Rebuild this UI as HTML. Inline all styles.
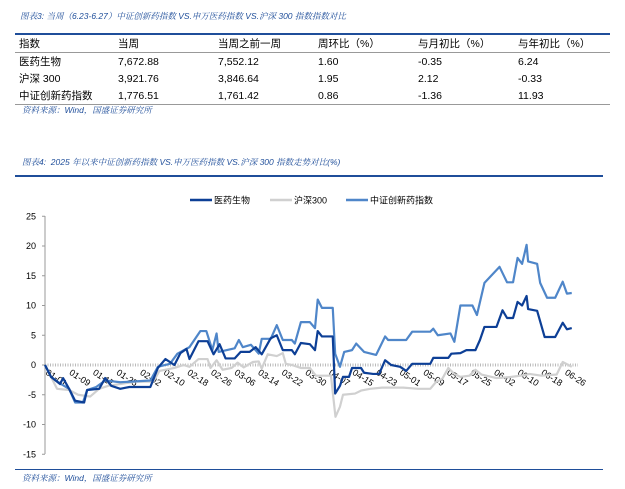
<!DOCTYPE html>
<html><head><meta charset="utf-8">
<style>
body{margin:0;width:625px;height:489px;background:#fff;position:relative;font-family:"Liberation Sans","Noto Sans CJK SC",sans-serif;overflow:hidden}
.t{position:absolute;font-size:8.5px;color:#1f4e9a;font-style:italic;font-family:"Liberation Sans","Noto Serif CJK SC",serif}
table{position:absolute;left:15px;top:33px;width:595px;border-collapse:collapse;font-size:10.5px;color:#000}
td{height:17px;padding:0 0 0 4px;white-space:nowrap}
</style></head><body>
<div class="t" style="left:20px;top:10px">图表3:&nbsp;当周（6.23-6.27）中证创新药指数 VS.申万医药指数 VS.沪深 300 指数指数对比</div>
<table>
<tr style="border-top:2px solid #1f4e9a;border-bottom:1px solid #999"><td style="width:95px">指数</td><td style="width:96px">当周</td><td style="width:96px">当周之前一周</td><td style="width:96px">周环比（%）</td><td style="width:96px">与月初比（%）</td><td>与年初比（%）</td></tr>
<tr><td>医药生物</td><td>7,672.88</td><td>7,552.12</td><td>1.60</td><td>-0.35</td><td>6.24</td></tr>
<tr><td>沪深 300</td><td>3,921.76</td><td>3,846.64</td><td>1.95</td><td>2.12</td><td>-0.33</td></tr>
<tr style="border-bottom:1px solid #999"><td>中证创新药指数</td><td>1,776.51</td><td>1,761.42</td><td>0.86</td><td>-1.36</td><td>11.93</td></tr>
</table>
<div class="t" style="left:22px;top:104px">资料来源：Wind，国盛证券研究所</div>
<div class="t" style="left:22px;top:156px">图表4:&nbsp; 2025 年以来中证创新药指数 VS.申万医药指数 VS.沪深 300 指数走势对比(%)</div>
<div style="position:absolute;left:15px;top:175px;width:588px;height:2px;background:#1f4e9a"></div>
<div style="position:absolute;left:15px;top:469px;width:588px;height:1px;background:#1f4e9a"></div>
<div class="t" style="left:22px;top:472px">资料来源：Wind，国盛证券研究所</div>
<svg id="c" width="625" height="489" style="position:absolute;left:0;top:0"></svg>
<script>
const tickVals=[25,20,15,10,5,0,-5,-10,-15];
const dateLabels=["01-01","01-09","01-17","01-25","02-02","02-10","02-18","02-26","03-06","03-14","03-22","03-30","04-07","04-15","04-23","05-01","05-09","05-17","05-25","06-02","06-10","06-18","06-26"];
const seriesNames=["医药生物","沪深300","中证创新药指数"];
const medDays=[0,2,5,6,8,10,13,14,18,20,22,25,28,35,37.5,40,43,45,47,48,51,54,56,58,60,63,65,68,70,72,75,77,79,82,83,85,88,89.7,90.6,92,95.6,96.4,98,99,101,102,105,106,109,111,113,115,118,120,122,128,129,131,134,135,138,140,143,144.5,146,150,152,153.5,155.5,157,158.5,160,160.5,163.5,166,169.5,172,173.4,175];
const medVals=[0,-2,-3.2,-2.2,-4,-6,-6.3,-4.2,-4,-2.2,-3.5,-4,-3.7,-3.7,-0.5,1,0,2,2.7,1,4,4,1.8,3.5,1.1,1.1,2.2,2.2,3,1.8,4.5,5,2.5,2.5,1.8,3.7,3.5,2.5,5.7,4.8,4.8,-4.8,-3.5,-2,-2,-0.5,-0.5,-1.3,-1.5,-1.5,0.8,0,-0.3,-1,0.2,0.2,1.2,1.2,1.2,1.9,2,2.5,2.5,4.2,6.4,6.4,9.2,7.9,7.9,10.6,10,11.6,9.4,9.1,4.7,4.7,7.1,6,6.2];
const hsDays=[0,2,4,8,11,15,18,21,25,30,36,38,43,46,48,51,54,55,57,59,62,64,66,69,71,72,74,77,79,80,82,85,88,90,95,96.5,98,99,103,105,108,112,119,124,128,130,132,134,136,138,141,143,145,150,155,158,161,165,170,172,175];
const hsVals=[0,-2,-4,-4.2,-5,-5.3,-4,-3.5,-3.2,-2.8,-2.8,-1,-0.5,0,-0.3,1,1,-0.5,0.8,-0.8,-0.5,0.4,-0.4,0.5,0.6,-0.6,1.8,1.5,2,0.2,0,-0.5,-0.5,-1.8,-1.8,-8.7,-7,-5,-4.8,-4.3,-4,-3.8,-3.8,-4,-4,-2.8,-2.3,-0.5,-1.5,-2,-1.8,-0.8,-1.6,-2.2,-2,-1.8,-1.5,-1.8,-1.6,0.5,-0.3];
const cxDays=[0,2,5,8,10,12.6,14,17,20,25,35,37.5,41.5,44,48,51.6,53.6,55.6,57,57.7,63,64.4,65.7,68.4,71,72,75,77,79,82,83,85,88,89.7,90.6,92,95.6,96.4,98,99.4,102,103.4,106,110,113,114,120,122,128,129,130.5,134.7,136,138,142,143.5,146,151,153.5,155.5,157,158.5,160,160.5,163.5,164.5,166.8,169.5,172,173.4,175];
const cxVals=[0,-2,-3.1,-4,-6.3,-6.3,-4.2,-3.7,-2.6,-2.9,-2.6,-0.3,0.2,1.9,3,5.7,5.7,2.5,5.3,2.2,2.8,4.2,3,3.4,1.9,4.4,4.4,6.7,4.2,4.2,3.6,7.2,7.2,6.2,11,9.6,9.6,1.9,-0.3,2.2,2.5,3.6,2.2,1.7,4.8,4.2,4.2,5.6,5.6,6.1,5,5.3,3.9,10,10,8.4,13.8,16.5,13.9,13.9,18,17,20.2,17.4,17,13.8,11.3,11.3,14,12,12.1];
const svg=document.getElementById('c');const NS='http://www.w3.org/2000/svg';
const X=d=>45+d*3.01, Y=v=>365-v*5.95;
function mk(t,a){const e=document.createElementNS(NS,t);for(const k in a)e.setAttribute(k,a[k]);svg.appendChild(e);return e;}
let ax=mk('line',{x1:45,y1:216,x2:45,y2:454,stroke:'#999','stroke-width':1});


tickVals.forEach(v=>{
 const tk=mk('line',{x1:42,x2:45,y1:Y(v),y2:Y(v),stroke:'#999'});
 
 
 const t=mk('text',{x:36,y:Y(v)+3,'text-anchor':'end','font-size':9,fill:'#000','font-family':'Liberation Sans'});t.textContent=v;
 
 
});
let z=mk('line',{x1:45,x2:578,y1:365,y2:365,stroke:'#bbb','stroke-width':3,'stroke-dasharray':'1,1.5'});


dateLabels.forEach((s,i)=>{
 const x=45+i*8*2.95,y=374;
 const t=mk('text',{x:x,y:y,transform:`rotate(33 ${x} ${y})`,'font-size':9,fill:'#000','font-family':'Liberation Sans'});t.textContent=s;
 
 
});
function line(days,vals,color,name){
 const p=mk('polyline',{points:days.map((d,i)=>X(d)+','+Y(vals[i])).join(' '),fill:'none',stroke:color,'stroke-width':2.2,'stroke-linejoin':'round'});
 
 
}
line(hsDays,hsVals,'#d0d0d0','csi300-line');
line(cxDays,cxVals,'#4f86c9','innovative-drug-line');
line(medDays,medVals,'#0d3f96','pharma-line');
const lg=[[190,'#0d3f96'],[270,'#d0d0d0'],[346,'#4f86c9']];
lg.forEach((l,i)=>{
 const m=mk('line',{x1:l[0],x2:l[0]+22,y1:200,y2:200,stroke:l[1],'stroke-width':2.5});
 
 
 const t=mk('text',{x:l[0]+24,y:203.5,'font-size':9,fill:'#000','font-family':'Liberation Sans, Noto Sans CJK SC'});t.textContent=seriesNames[i];
 
 
});
</script>
</body></html>
